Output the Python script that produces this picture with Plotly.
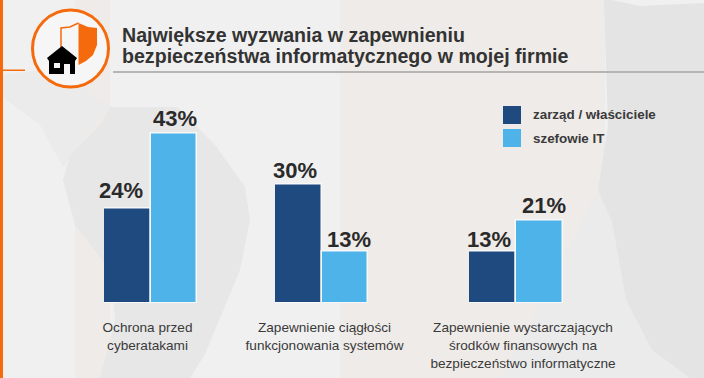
import plotly.graph_objects as go

categories = ["Ochrona przed<br>cyberatakami",
              "Zapewnienie ciągłości<br>funkcjonowania systemów",
              "Zapewnienie wystarczających<br>środków finansowych na<br>bezpieczeństwo informatyczne"]
series_names = ["zarząd / właściciele", "szefowie IT"]
zarzad = [24, 30, 13]
szefowie = [43, 13, 21]
title_lines = ["Największe wyzwania w zapewnieniu", "bezpieczeństwa informatycznego w mojej firmie"]

W, H = 704, 378
DARK, LIGHT, ORANGE = "#1f4a80", "#4db3e8", "#f56a0c"
FONT = "Liberation Sans"
def px(x): return x / W
def py(y): return 1 - y / H
def path(pts, close=True):
    return "M" + " L".join(f"{px(a):.5f},{py(b):.5f}" for a, b in pts) + (" Z" if close else "")

fig = go.Figure()
group_px = [(104, 197), (275, 368), (469, 563)]
label_shift = [-3, 3, 7]
value_xshift = [(-6, 1), (-3, 4), (-3, 4)]
value_yshift = [(3, 0), (0, -2), (-2, 0)]
for i, (a, b) in enumerate(group_px):
    s = "" if i == 0 else str(i + 1)
    for j, (name, vals, col) in enumerate(((series_names[0], zarzad, DARK), (series_names[1], szefowie, LIGHT))):
        fig.add_trace(go.Bar(x=[categories[i]], y=[vals[i]], name=name, xaxis="x" + s, yaxis="y" + s,
                             marker=dict(color=col, line=dict(color="#f8f8f8", width=1.5)),
                             cliponaxis=False, showlegend=False))
        fig.add_annotation(x=-0.25 + 0.5 * j, y=vals[i], xref="x" + s, yref="y" + s, text=f"<b>{vals[i]}%</b>",
                           showarrow=False, yanchor="bottom", xshift=value_xshift[i][j], yshift=value_yshift[i][j],
                           font=dict(family=FONT, size=22, color="#2a2a2a"))
    fig.update_layout({
        "xaxis" + s: dict(domain=[px(a), px(b)], anchor="y" + s, type="category", tickangle=0, automargin=False,
                          range=[-0.5, 0.5], ticks="outside", ticklen=12, tickcolor="rgba(0,0,0,0)", showline=False,
                          ticklabelshift=label_shift[i],
                          tickfont=dict(family=FONT, size=13.6, color="#3a3a3a")),
        "yaxis" + s: dict(domain=[py(303), py(105.5)], range=[0, 50], visible=False, anchor="x" + s, automargin=False),
    })

shapes = []
def add_poly(pts, fill, line=None, lw=0, layer="below"):
    shapes.append(dict(type="path", path=path(pts), xref="paper", yref="paper", fillcolor=fill,
                       line=dict(color=line or "rgba(0,0,0,0)", width=lw), layer=layer))
def rect(x0, y0, x1, y1, fill, layer="below"):
    shapes.append(dict(type="rect", xref="paper", yref="paper", x0=px(x0), x1=px(x1), y0=py(y0), y1=py(y1),
                       fillcolor=fill, line=dict(width=0), layer=layer))
# backdrop
rect(0, 0, W, H, "#f0f0f0")
rect(75, 0, 110, H, "#efebe8")
rect(340, 0, 605, H, "#efebe8")
add_poly([(0, 75), (40, 70), (80, 85), (110, 107), (90, 130), (63, 167), (40, 125), (0, 95)], "#ebebeb")
add_poly([(63, 180), (70, 155), (100, 125), (110, 107), (177, 107), (215, 145), (245, 187), (250, 220), (240, 270),
          (205, 354), (190, 378), (100, 378), (115, 320), (110, 270), (75, 225)], "#e7e7e7")
add_poly([(598, 190), (612, 222), (626, 300), (652, 350), (690, 378), (502, 378)], "#ebebeb")
add_poly([(604, 0), (704, 0), (704, 378), (690, 378), (652, 350), (626, 300), (612, 222), (598, 190), (608, 126)], "#e4e4e4")
add_poly([(612, 0), (704, 0), (704, 3), (640, 6)], "#f0f0f0")
rect(0, 0, 3, H, ORANGE)
rect(0, 69.5, 25, 71, ORANGE)
rect(113, 71, W, 73, "#b5b5b5")
# icon
shapes.append(dict(type="circle", xref="paper", yref="paper", x0=px(32.5), x1=px(108.5), y0=py(87), y1=py(10),
                   fillcolor="#f6f6f6", line=dict(color=ORANGE, width=3), layer="below"))
add_poly([(78.5, 23), (88, 27), (97, 28), (97, 45), (93, 55), (86, 61), (78.5, 65)], ORANGE)
shapes.append(dict(type="path", path=path([(61, 47), (61, 28), (70, 27), (78.5, 23)], close=False), xref="paper", yref="paper",
                   line=dict(color=ORANGE, width=1.5), layer="below"))
add_poly([(62, 46), (77, 58), (75, 61), (75, 74), (49, 74), (49, 61), (47, 58)], "#000000")
rect(54, 63, 60, 68, "#f6f6f6")
rect(64, 64, 70, 74, "#f6f6f6")
# legend swatches
rect(503, 106, 521, 124, DARK)
rect(503, 129, 521, 147, LIGHT)
fig.update_layout(shapes=shapes)

def text(x, y, t, size, color, bold=True):
    fig.add_annotation(x=px(x), y=py(y), xref="paper", yref="paper", text=f"<b>{t}</b>" if bold else t, showarrow=False,
                       xanchor="left", yanchor="middle", font=dict(family=FONT, size=size, color=color))
text(120, 35, title_lines[0], 19.6, "#333333")
text(120, 55.5, title_lines[1], 19.6, "#333333")
text(531, 115, series_names[0], 13.4, "#3a3a3a")
text(531, 139, series_names[1], 13.4, "#3a3a3a")

fig.update_layout(width=W, height=H, margin=dict(l=0, r=0, t=0, b=0, autoexpand=False), barmode="group", bargap=0, bargroupgap=0,
                  paper_bgcolor="#f0f0f0", plot_bgcolor="rgba(0,0,0,0)", showlegend=False)
fig.write_html("out.html", post_script="document.body.style.margin='0';", config=dict(displayModeBar=False))
